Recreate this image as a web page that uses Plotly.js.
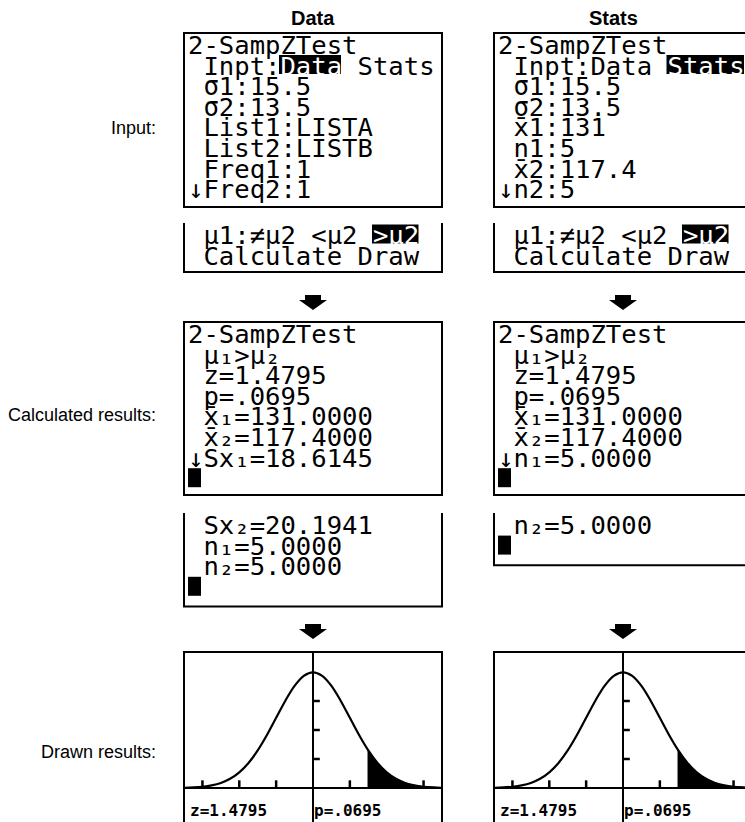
<!DOCTYPE html>
<html>
<head>
<meta charset="utf-8">
<script src="https://cdn.plot.ly/plotly-3.0.1.min.js"></script>
<style>html,body{margin:0;padding:0;background:#fff;}</style>
</head>
<body>
<div id="chart" style="width:745px;height:822px;"></div>
<script>
// ---------------- data ----------------
const columnTitles = ["Data", "Stats"];
const rowLabels = ["Input:", "Calculated results:", "Drawn results:"];

const dataInputLines = ["2-SampZTest", " Inpt:Data Stats", " σ1:15.5", " σ2:13.5", " List1:LISTA", " List2:LISTB", " Freq1:1", "↓Freq2:1"];
const statsInputLines = ["2-SampZTest", " Inpt:Data Stats", " σ1:15.5", " σ2:13.5", " x̄1:131", " n1:5", " x̄2:117.4", "↓n2:5"];
const menuLines = [" µ1:≠µ2 <µ2 >µ2", " Calculate Draw"];
// highlighted (reverse video) choices: [line index, first char, length]
const dataInputSel = [1, 6, 4];
const statsInputSel = [1, 11, 5];
const menuSel = [0, 12, 3];

const dataResultLines = ["2-SampZTest", " µ₁>µ₂", " z=1.4795", " p=.0695", " x̄₁=131.0000", " x̄₂=117.4000", "↓Sx₁=18.6145"];
const dataResultLines2 = [" Sx₂=20.1941", " n₁=5.0000", " n₂=5.0000"];
const statsResultLines = ["2-SampZTest", " µ₁>µ₂", " z=1.4795", " p=.0695", " x̄₁=131.0000", " x̄₂=117.4000", "↓n₁=5.0000"];
const statsResultLines2 = [" n₂=5.0000"];

// normal curve as read from the drawn screens
const curveX = [-3.5,-3.25,-3,-2.75,-2.5,-2.25,-2,-1.75,-1.5,-1.25,-1,-0.75,-0.5,-0.25,0,0.25,0.5,0.75,1,1.25,1.5,1.75,2,2.25,2.5,2.75,3,3.25,3.5];
const curveY = [0.0009,0.0020,0.0044,0.0091,0.0175,0.0317,0.0540,0.0863,0.1295,0.1826,0.2420,0.3011,0.3521,0.3867,0.3989,0.3867,0.3521,0.3011,0.2420,0.1826,0.1295,0.0863,0.0540,0.0317,0.0175,0.0091,0.0044,0.0020,0.0009];
const shadeX = [1.4795,1.75,2,2.25,2.5,2.75,3,3.25,3.5];
const shadeY = [0.1334,0.0863,0.0540,0.0317,0.0175,0.0091,0.0044,0.0020,0.0009];
const xTicks = [-3,-2,-1,1,2,3];
const yTicks = [0.1,0.2,0.3];
const zLabel = "z=1.4795";
const pLabel = "p=.0695";

// ---------------- layout helpers ----------------
const W = 745, H = 822;
const X = p => p / W;
const Y = p => 1 - p / H;
const colLeft = [184, 494];
const boxW = 258;
const CW = 15.5;     // character advance
const LH = 20.6;     // line height
const TX = 3;        // text offset inside box
const FS = 25.6;
const tiFont = {family: "DejaVu Sans Mono", size: FS, color: "#000"};

const shapes = [];
const annotations = [];

const esc = s => s.replace(/&/g, "&amp;").replace(/</g, "&lt;").replace(/>/g, "&gt;");

function closedBox(x0, y0, x1, y1) {
  shapes.push({type: "rect", xref: "paper", yref: "paper", x0: X(x0), x1: X(x1), y0: Y(y0), y1: Y(y1),
    line: {color: "#000", width: 2}, fillcolor: "rgba(0,0,0,0)"});
}
function openBox(x0, y0, x1, y1) {
  shapes.push({type: "path", xref: "paper", yref: "paper",
    path: `M ${X(x0)} ${Y(y0)} L ${X(x0)} ${Y(y1)} L ${X(x1)} ${Y(y1)} L ${X(x1)} ${Y(y0)}`,
    line: {color: "#000", width: 2}});
}
function topOpenSides(x0, y0, x1, y1) {
  shapes.push({type: "path", xref: "paper", yref: "paper",
    path: `M ${X(x0)} ${Y(y1)} L ${X(x0)} ${Y(y0)} L ${X(x1)} ${Y(y0)} L ${X(x1)} ${Y(y1)}`,
    line: {color: "#000", width: 2}});
}
// one annotation per screen; selection drawn as black bar + white text
function screen(arr, left, firstY, sel) {
  const html = arr.map((t, i) => {
    if (sel && sel[0] === i) {
      const a = t.slice(0, sel[1]), b = t.slice(sel[1], sel[1] + sel[2]), c = t.slice(sel[1] + sel[2]);
      const x0 = left + TX + sel[1] * CW;
      shapes.push({type: "rect", xref: "paper", yref: "paper", x0: X(x0 - 1), x1: X(x0 + sel[2] * CW - 1),
        y0: Y(firstY + i * LH + 9.5), y1: Y(firstY + i * LH - 9.5), line: {width: 0}, fillcolor: "#000"});
      return esc(a) + '<span style="color:#fff">' + esc(b) + '</span>' + esc(c);
    }
    return esc(t);
  }).join("<br>");
  annotations.push({xref: "paper", yref: "paper", x: X(left + TX), y: Y(firstY - 15),
    xanchor: "left", yanchor: "top", align: "left", text: html, showarrow: false, font: tiFont,
    borderpad: 0, name: "tiscreen"});
}
function cursor(left, lineY) {
  shapes.push({type: "rect", xref: "paper", yref: "paper", x0: X(left + 4), x1: X(left + 17),
    y0: Y(lineY + 10), y1: Y(lineY - 9), line: {width: 0}, fillcolor: "#000"});
}
function arrow(cx, top) {
  const p = [[cx - 8, top], [cx + 8, top], [cx + 8, top + 5], [cx + 14, top + 5], [cx, top + 15], [cx - 14, top + 5], [cx - 8, top + 5]];
  shapes.push({type: "path", xref: "paper", yref: "paper",
    path: "M " + p.map(q => `${X(q[0])} ${Y(q[1])}`).join(" L ") + " Z",
    fillcolor: "#000", line: {color: "#000", width: 0}});
}

// headers
const headerX = [313, 613];
columnTitles.forEach((t, i) => annotations.push({xref: "paper", yref: "paper", x: X(headerX[i]), y: Y(18),
  xanchor: "center", yanchor: "middle", text: "<b>" + t + "</b>", showarrow: false,
  font: {family: "Liberation Sans, Arial", size: 20, color: "#000"}}));

// row labels
const labelY = [128, 415, 752];
rowLabels.forEach((t, i) => annotations.push({xref: "paper", yref: "paper", x: X(158), y: Y(labelY[i]),
  xanchor: "right", yanchor: "middle", text: t, showarrow: false,
  font: {family: "Liberation Sans, Arial", size: 18, color: "#000"}}));

// screens
const inputs = [dataInputLines, statsInputLines];
const inputSel = [dataInputSel, statsInputSel];
const results = [dataResultLines, statsResultLines];
const results2 = [dataResultLines2, statsResultLines2];
colLeft.forEach((L, c) => {
  const R = L + boxW;
  closedBox(L, 33, R, 207);
  screen(inputs[c], L, 44, inputSel[c]);
  openBox(L, 223, R, 272);
  screen(menuLines, L, 234, menuSel);
  arrow(L + 129, 295);
  closedBox(L, 322, R, 495);
  screen(results[c], L, 333, null);
  cursor(L, 333 + 7 * LH);
  const n2 = results2[c].length;
  const bottom = 513 + 10 + (n2 + 1) * LH + 1;
  openBox(L, 513, R, bottom);
  screen(results2[c], L, 524, null);
  cursor(L, 524 + n2 * LH);
  arrow(L + 129, 624);
  topOpenSides(L, 652, R, 830);
});

// graph labels
colLeft.forEach(L => {
  annotations.push({xref: "paper", yref: "paper", x: X(L + 5), y: Y(810), xanchor: "left", yanchor: "middle",
    text: "<b>" + zLabel + "</b>", showarrow: false, font: {family: "DejaVu Sans Mono", size: 16, color: "#000"}, borderpad: 0});
  annotations.push({xref: "paper", yref: "paper", x: X(L + 129), y: Y(810), xanchor: "left", yanchor: "middle",
    text: "<b>" + pLabel + "</b>", showarrow: false, font: {family: "DejaVu Sans Mono", size: 16, color: "#000"}, borderpad: 0});
});

// ---------------- traces ----------------
const pxPerX = boxW / 7;
const traces = [];
["", "2"].forEach(s => {
  const xa = "x" + s, ya = "y" + s;
  traces.push({x: shadeX, y: shadeY, xaxis: xa, yaxis: ya, type: "scatter", mode: "lines",
    fill: "tozeroy", fillcolor: "#000", line: {color: "#000", width: 1}, hoverinfo: "skip"});
  traces.push({x: curveX, y: curveY, xaxis: xa, yaxis: ya, type: "scatter", mode: "lines",
    line: {color: "#000", width: 2.2, shape: "spline"}, hoverinfo: "skip"});
  traces.push({x: xTicks, y: xTicks.map(() => 0.012), xaxis: xa, yaxis: ya, type: "scatter", mode: "markers",
    marker: {symbol: "line-ns", size: 6, line: {color: "#000", width: 2.5}}, hoverinfo: "skip"});
  traces.push({x: yTicks.map(() => 0.09), y: yTicks, xaxis: xa, yaxis: ya, type: "scatter", mode: "markers",
    marker: {symbol: "line-ew", size: 5, line: {color: "#000", width: 2.5}}, hoverinfo: "skip"});
});

const yMax = (788 - 652) / 290, yMin = -(822 - 788) / 290;
function ax(domain, range) {
  return {domain: domain, range: range, showgrid: false, showticklabels: false, ticks: "", showline: false,
    zeroline: true, zerolinecolor: "#000", zerolinewidth: 2.5, fixedrange: true};
}
const layout = {
  width: W, height: H, margin: {l: 0, r: 0, t: 0, b: 0},
  paper_bgcolor: "#fff", plot_bgcolor: "rgba(0,0,0,0)", showlegend: false,
  xaxis: Object.assign(ax([X(184), X(442)], [-3.5, 3.5]), {anchor: "y"}),
  yaxis: Object.assign(ax([0, Y(652)], [yMin, yMax]), {anchor: "x"}),
  xaxis2: Object.assign(ax([X(494), 1], [-3.5, -3.5 + (745 - 494) / pxPerX]), {anchor: "y2"}),
  yaxis2: Object.assign(ax([0, Y(652)], [yMin, yMax]), {anchor: "x2"}),
  shapes: shapes, annotations: annotations
};

// calculator screens use 8-pixel rows: tighten the line pitch of the multi-line screen texts
function tighten(gd) {
  gd.querySelectorAll("text.annotation-text").forEach(t => {
    t.querySelectorAll("tspan.line").forEach(ts => {
      const dy = ts.getAttribute("dy");
      if (dy && /em$/.test(dy)) {
        const n = Math.round(parseFloat(dy) / 1.3);
        ts.setAttribute("dy", (n * LH) + "px");
      }
    });
  });
}
Plotly.newPlot("chart", traces, layout, {staticPlot: true, displayModeBar: false}).then(tighten);
</script>
</body>
</html>
